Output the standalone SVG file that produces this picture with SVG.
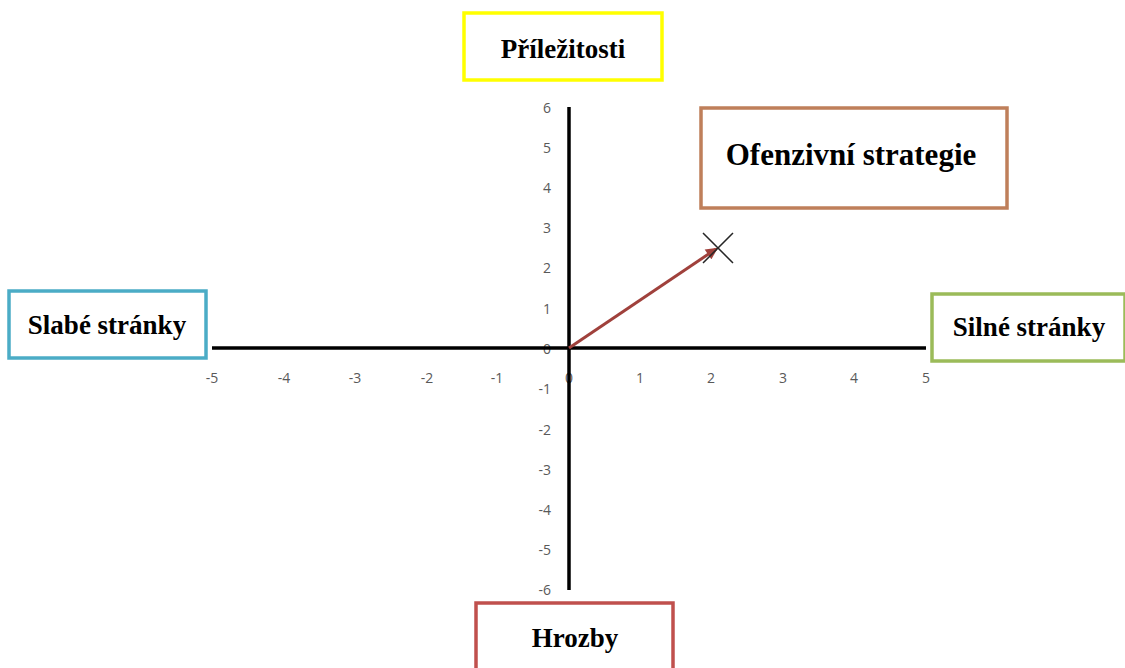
<svg xmlns="http://www.w3.org/2000/svg" width="1125" height="668" viewBox="0 0 1125 668">
<style>
.box{fill:#fff;stroke-width:3.5}
.lbl{font-family:"Liberation Serif","Times New Roman",serif;font-weight:bold;font-size:27px;fill:#000;text-anchor:middle}
.tk{font-family:"Open Sans","Liberation Sans",sans-serif;font-size:14px;fill:#595959}
.tx{text-anchor:middle}
.ty{text-anchor:end}
.axis{stroke:#000;stroke-width:3.5;fill:none}
</style>
<defs>
<marker id="ah" viewBox="0 0 10 10" refX="8" refY="5" markerWidth="4.5" markerHeight="4" orient="auto" markerUnits="strokeWidth">
<path d="M0,0 L10,5 L0,10 z" fill="#a0413c"/>
</marker>
</defs>
<rect width="1125" height="668" fill="#fff"/>
<g id="ticks">
<text class="tk ty" x="551" y="113">6</text>
<text class="tk ty" x="551" y="153">5</text>
<text class="tk ty" x="551" y="193">4</text>
<text class="tk ty" x="551" y="233">3</text>
<text class="tk ty" x="551" y="273">2</text>
<text class="tk ty" x="551" y="314">1</text>
<text class="tk ty" x="551" y="354">0</text>
<text class="tk ty" x="551" y="394">-1</text>
<text class="tk ty" x="551" y="435">-2</text>
<text class="tk ty" x="551" y="475">-3</text>
<text class="tk ty" x="551" y="515">-4</text>
<text class="tk ty" x="551" y="555">-5</text>
<text class="tk ty" x="551" y="595">-6</text>
<text class="tk tx" x="212" y="383">-5</text>
<text class="tk tx" x="284" y="383">-4</text>
<text class="tk tx" x="355" y="383">-3</text>
<text class="tk tx" x="427" y="383">-2</text>
<text class="tk tx" x="497" y="383">-1</text>
<text class="tk tx" x="569" y="383">0</text>
<text class="tk tx" x="640" y="383">1</text>
<text class="tk tx" x="711" y="383">2</text>
<text class="tk tx" x="783" y="383">3</text>
<text class="tk tx" x="854" y="383">4</text>
<text class="tk tx" x="926" y="383">5</text>
</g>
<g id="connectors">
<line class="axis" x1="212" y1="348" x2="926" y2="348"/>
<line class="axis" x1="569" y1="107" x2="569" y2="590"/>
<line x1="569" y1="348" x2="716" y2="249" stroke="#a0413c" stroke-width="3" marker-end="url(#ah)"/>
<path d="M703,233 L733,263 M733,233 L703,263" stroke="#262626" stroke-width="1.5" fill="none"/>
</g>
<g id="prilezitosti">
<rect class="box" x="464" y="13" width="198" height="67" stroke="#ffff00"/>
<text class="lbl" x="563" y="58">Příležitosti</text>
</g>
<g id="ofenzivni">
<rect class="box" x="701" y="108" width="306" height="100" stroke="#bf7f5a" stroke-width="4.5"/>
<text class="lbl" x="851" y="165" style="font-size:31px">Ofenzivní strategie</text>
</g>
<g id="slabe">
<rect class="box" x="9" y="291" width="197" height="67" stroke="#4bacc6"/>
<text class="lbl" x="107" y="334">Slabé stránky</text>
</g>
<g id="silne">
<rect class="box" x="932" y="294" width="193" height="67" stroke="#9bbb59"/>
<text class="lbl" x="1029" y="336">Silné stránky</text>
</g>
<g id="hrozby">
<rect class="box" x="476" y="603" width="197" height="80" stroke="#c0504d"/>
<text class="lbl" x="575" y="647">Hrozby</text>
</g>
</svg>
